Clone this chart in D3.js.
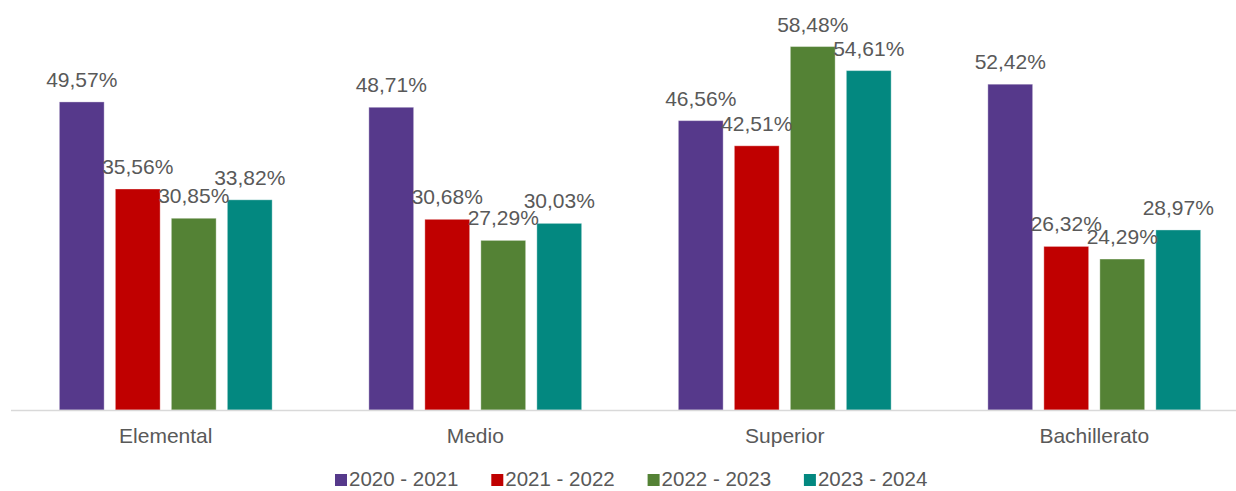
<!DOCTYPE html>
<html>
<head>
<meta charset='utf-8'>
<title>Porcentajes por nivel</title>
<script src='https://d3js.org/d3.v7.min.js'></script>
<style>
  body { margin: 0; background: #fff; }
  text { font-family: 'Liberation Sans', Arial, sans-serif; fill: #595959; }
</style>
</head>
<body>
<div id='chart'></div>
<script>
// datos
const categories = ['Elemental', 'Medio', 'Superior', 'Bachillerato'];
const series = ['2020 - 2021', '2021 - 2022', '2022 - 2023', '2023 - 2024'];
const colors = ['#56398B', '#C00000', '#548235', '#038880'];
const values = [
  [49.57, 48.71, 46.56, 52.42],  // 2020 - 2021
  [35.56, 30.68, 42.51, 26.32],  // 2021 - 2022
  [30.85, 27.29, 58.48, 24.29],  // 2022 - 2023
  [33.82, 30.03, 54.61, 28.97]   // 2023 - 2024
];

const W = 1236, H = 491;
const base = 410;

const svg = d3.select('#chart').append('svg')
  .attr('width', W).attr('height', H);

const x0 = d3.scaleBand().domain(categories).range([11, 1249]);
const x1 = d3.scaleBand().domain(series)
  .range([-112, 112]).paddingInner(0.2).paddingOuter(0.1);
const y = d3.scaleLinear().domain([0, 60]).range([base, base - 60 * 6.215]);

const fmt = v => d3.format('.2f')(v).replace('.', ',') + '%';

const rows = [];
series.forEach((s, si) => {
  categories.forEach((c, ci) => {
    rows.push({ s, si, c, v: values[si][ci] });
  });
});

const cx = d => x0(d.c) + x0.bandwidth() / 2 + x1(d.s);

svg.selectAll('rect.bar')
  .data(rows)
  .enter()
  .append('rect')
    .attr('class', 'bar')
    .attr('x', cx)
    .attr('y', d => y(d.v))
    .attr('width', x1.bandwidth())
    .attr('height', d => base - y(d.v))
    .attr('fill', d => colors[d.si])
    .attr('stroke', '#ffffff')
    .attr('stroke-opacity', 0.35)
    .attr('stroke-width', 1);

// eje x
svg.append('line')
  .attr('x1', 11).attr('x2', W)
  .attr('y1', base + 0.5).attr('y2', base + 0.5)
  .attr('stroke', '#d9d9d9').attr('stroke-width', 1.5);

svg.selectAll('text.cat')
  .data(categories)
  .enter()
  .append('text')
    .attr('class', 'cat')
    .attr('x', d => x0(d) + x0.bandwidth() / 2)
    .attr('y', 443)
    .attr('text-anchor', 'middle')
    .attr('font-size', '21px')
    .text(d => d);

// etiquetas
svg.selectAll('text.lbl')
  .data(rows)
  .enter()
  .append('text')
    .attr('class', 'lbl')
    .attr('x', d => cx(d) + x1.bandwidth() / 2)
    .attr('y', d => y(d.v) - 15)
    .attr('text-anchor', 'middle')
    .attr('font-size', '21px')
    .text(d => fmt(d.v));

// leyenda
const legend = svg.append('g').attr('transform', 'translate(335,0)');
const item = legend.selectAll('g')
  .data(series)
  .enter()
  .append('g')
    .attr('transform', (d, i) => `translate(${i * 156.3},0)`);

item.append('rect')
  .attr('x', 0).attr('y', 474)
  .attr('width', 12).attr('height', 12)
  .attr('fill', (d, i) => colors[i]);

item.append('text')
  .attr('x', 14).attr('y', 486)
  .attr('font-size', '20.5px')
  .text(d => d);
</script>
</body>
</html>
